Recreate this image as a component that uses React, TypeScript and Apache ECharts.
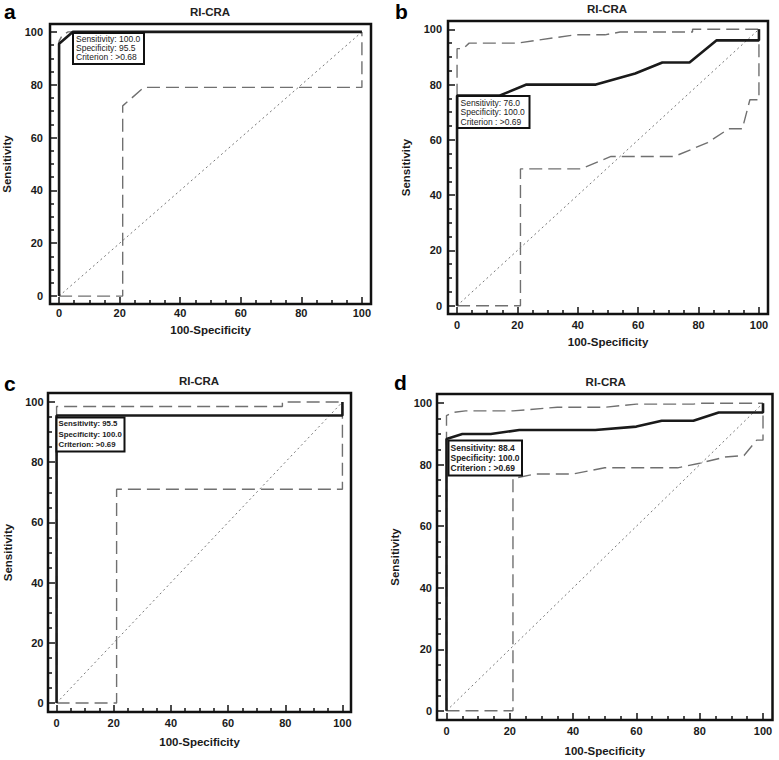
import React, { useEffect, useRef } from "react";
import * as echarts from "echarts";

const majorTicks = [0, 20, 40, 60, 80, 100];
const minorTicks = [5, 10, 15, 25, 30, 35, 45, 50, 55, 65, 70, 75, 85, 90, 95];
const diagonal = [[0, 0], [100, 100]];
const titleText = "RI-CRA";
const xName = "100-Specificity";
const yName = "Sensitivity";

// Panel a
const rocA = [[0, 0], [0, 95.5], [4.5, 100], [100, 100]];
const upperA = [[0, 0], [0, 96.5], [1.2, 99], [3, 100], [100, 100]];
const lowerA = [[0, 0], [21, 0], [21, 72], [28, 79], [100, 79], [100, 100]];
const statsA = ["Sensitivity: 100.0", "Specificity: 95.5", "Criterion : >0.68"];

// Panel b
const rocB = [[0, 0], [0, 76], [14, 76], [23, 80], [46, 80], [59, 84], [68, 88], [77, 88], [86, 96], [100, 96], [100, 100]];
const upperB = [[0, 0], [0, 93], [2, 93], [4, 95], [20, 95], [39, 98], [49, 98], [54, 99], [78, 99], [78, 100], [100, 100]];
const lowerB = [[0, 0], [21, 0], [21, 49.5], [41, 49.5], [51, 54], [72, 54], [83, 59], [90, 64], [94.5, 64], [97, 74.5], [100, 74.5], [100, 100]];
const statsB = ["Sensitivity: 76.0", "Specificity: 100.0", "Criterion : >0.69"];

// Panel c
const rocC = [[0, 0], [0, 95.5], [100, 95.5], [100, 100]];
const upperC = [[0, 0], [0, 98.5], [79, 98.5], [79, 100], [100, 100]];
const lowerC = [[0, 0], [21, 0], [21, 71], [100, 71], [100, 100]];
const statsC = ["Sensitivity: 95.5", "Specificity: 100.0", "Criterion: >0.69"];

// Panel d
const rocD = [[0, 0], [0, 88.4], [5, 90], [14, 90], [23, 91.3], [47, 91.3], [60, 92.4], [68, 94.3], [78, 94.3], [86, 97], [100, 97], [100, 100]];
const upperD = [[0, 0], [0, 96], [2, 97], [6, 97.5], [21, 97.5], [35, 98.7], [50, 98.7], [60, 99.7], [78, 99.7], [80, 100], [100, 100]];
const lowerD = [[0, 0], [21, 0], [21, 75.5], [28, 77], [40, 77], [50, 79], [73, 79], [80, 80.5], [88, 82.5], [94, 83], [98, 88], [100, 88], [100, 100]];
const statsD = ["Sensitivity: 88.4", "Specificity: 100.0", "Criterion : >0.69"];

const FONT = "Arial, 'Liberation Sans', sans-serif";

const panels = [
  {
    letter: "a", roc: rocA, upper: upperA, lower: lowerA, stats: statsA,
    grid: { left: 50, top: 24, width: 321, height: 280 },
    xLabelMargin: 3, yLabelMargin: 7, xNameGap: 20, yNameGap: 37,
    title: [210, 12], letterPos: [4, 11],
    box: { x: 73, y: 33, w: 71, h: 31, tx: 76, lines: [39.3, 48.3, 57], bold: false, fs: 8.5 },
  },
  {
    letter: "b", roc: rocB, upper: upperB, lower: lowerB, stats: statsB,
    grid: { left: 448, top: 21, width: 320, height: 293 },
    xLabelMargin: 5, yLabelMargin: 6, xNameGap: 22, yNameGap: 36,
    title: [607, 8.5], letterPos: [395, 11.5],
    box: { x: 457.5, y: 96, w: 72, h: 32, tx: 460.5, lines: [102.7, 112.3, 121.7], bold: false, fs: 8.5 },
  },
  {
    letter: "c", roc: rocC, upper: upperC, lower: lowerC, stats: statsC,
    grid: { left: 48, top: 393, width: 303, height: 319 },
    xLabelMargin: 5.5, yLabelMargin: 4.5, xNameGap: 24, yNameGap: 34.5,
    title: [199, 381], letterPos: [4, 383],
    box: { x: 56.5, y: 417.5, w: 68, h: 34, tx: 58.5, lines: [423.5, 434, 444.5], bold: true, fs: 7.8 },
  },
  {
    letter: "d", roc: rocD, upper: upperD, lower: lowerD, stats: statsD,
    grid: { left: 437, top: 394, width: 335.5, height: 326 },
    xLabelMargin: 5.5, yLabelMargin: 5, xNameGap: 25, yNameGap: 36.5,
    title: [605.7, 381.7], letterPos: [394, 382],
    box: { x: 448.5, y: 440.5, w: 73.5, h: 35, tx: 450.5, lines: [447.7, 457.7, 467.7], bold: true, fs: 8.5 },
  },
];

function buildOption() {
  const grid: any[] = [];
  const xAxis: any[] = [];
  const yAxis: any[] = [];
  const series: any[] = [];
  const graphic: any[] = [];

  panels.forEach((p, i) => {
    grid.push({
      ...p.grid,
      show: true,
      borderColor: "#111",
      borderWidth: 2.5,
      backgroundColor: "transparent",
      containLabel: false,
    });
    const labelStyle = { fontFamily: FONT, fontWeight: "bold", fontSize: 11, color: "#1a1a1a" };
    const hiddenLine = { show: false, onZero: false };
    xAxis.push({
      type: "value", gridIndex: i, min: -3, max: 103, position: "bottom",
      axisLine: hiddenLine, splitLine: { show: false },
      axisTick: { show: true, inside: true, length: 7, customValues: majorTicks, lineStyle: { color: "#111", width: 1.5 } },
      axisLabel: { ...labelStyle, customValues: majorTicks, margin: p.xLabelMargin },
      name: xName, nameLocation: "middle", nameGap: p.xNameGap,
      nameTextStyle: { fontFamily: FONT, fontWeight: "bold", fontSize: 11.5, color: "#1a1a1a" },
    });
    xAxis.push({
      type: "value", gridIndex: i, min: -3, max: 103, position: "bottom",
      axisLine: hiddenLine, splitLine: { show: false },
      axisTick: { show: true, inside: true, length: 4, customValues: minorTicks, lineStyle: { color: "#111", width: 1.5 } },
      axisLabel: { show: false },
    });
    yAxis.push({
      type: "value", gridIndex: i, min: -3, max: 103, position: "left",
      axisLine: hiddenLine, splitLine: { show: false },
      axisTick: { show: true, inside: true, length: 7, customValues: majorTicks, lineStyle: { color: "#111", width: 1.5 } },
      axisLabel: { ...labelStyle, customValues: majorTicks, margin: p.yLabelMargin },
      name: yName, nameLocation: "middle", nameGap: p.yNameGap,
      nameTextStyle: { fontFamily: FONT, fontWeight: "bold", fontSize: 11.5, color: "#1a1a1a" },
    });
    yAxis.push({
      type: "value", gridIndex: i, min: -3, max: 103, position: "left",
      axisLine: hiddenLine, splitLine: { show: false },
      axisTick: { show: true, inside: true, length: 4, customValues: minorTicks, lineStyle: { color: "#111", width: 1.5 } },
      axisLabel: { show: false },
    });

    const ax = { xAxisIndex: 2 * i, yAxisIndex: 2 * i };
    series.push({
      type: "line", ...ax, data: diagonal, showSymbol: false, z: 2,
      lineStyle: { color: "#777", width: 1, type: [2, 3] },
    });
    series.push({
      type: "line", ...ax, data: p.upper, showSymbol: false, z: 3,
      lineStyle: { color: "#707070", width: 1.4, type: [13, 6] },
    });
    series.push({
      type: "line", ...ax, data: p.lower, showSymbol: false, z: 3,
      lineStyle: { color: "#707070", width: 1.4, type: [13, 6] },
    });
    series.push({
      type: "line", ...ax, data: p.roc, showSymbol: false, z: 4,
      lineStyle: { color: "#1a1a1a", width: 2.6 },
    });

    graphic.push({
      type: "text", x: p.title[0], y: p.title[1], z: 60,
      style: { text: titleText, fontFamily: FONT, fontWeight: "bold", fontSize: 11.5, fill: "#222", align: "center", verticalAlign: "middle" },
    });
    graphic.push({
      type: "text", x: p.letterPos[0], y: p.letterPos[1], z: 60,
      style: { text: p.letter, fontFamily: FONT, fontWeight: "bold", fontSize: 21, fill: "#000", align: "left", verticalAlign: "middle" },
    });
    const b = p.box;
    graphic.push({
      type: "rect", z: 60,
      shape: { x: b.x, y: b.y, width: b.w, height: b.h },
      style: { fill: "#fff", stroke: "#111", lineWidth: 2 },
    });
    p.stats.forEach((s, k) => {
      graphic.push({
        type: "text", x: b.tx, y: b.lines[k], z: 61,
        style: { text: s, fontFamily: FONT, fontWeight: b.bold ? "bold" : "normal", fontSize: b.fs, fill: "#222", align: "left", verticalAlign: "middle" },
      });
    });
  });

  return {
    animation: false,
    backgroundColor: "#fff",
    grid, xAxis, yAxis, series, graphic,
  };
}

export default function App() {
  const ref = useRef<HTMLDivElement>(null);
  useEffect(() => {
    if (!ref.current) return;
    const chart = echarts.init(ref.current, undefined, { renderer: "svg" });
    chart.setOption(buildOption() as any);
    return () => chart.dispose();
  }, []);
  return (
    <div
      ref={ref}
      style={{ position: "absolute", left: 0, top: 0, width: 779, height: 760, background: "#fff" }}
    />
  );
}
